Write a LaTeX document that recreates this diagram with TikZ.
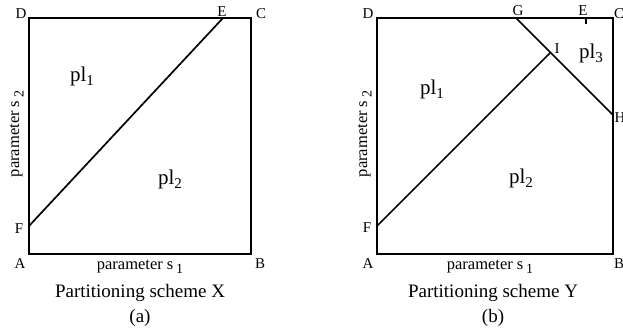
\documentclass[tikz,border=0pt]{standalone}
\usepackage{fontspec}
\setmainfont{Liberation Serif}

\tikzset{
  corner/.style={font=\fontsize{15}{15}\selectfont,inner sep=0pt,anchor=base},
  region/.style={font=\fontsize{21}{21}\selectfont,inner sep=0pt,anchor=base},
  axislabel/.style={font=\fontsize{16.5}{16.5}\selectfont,inner sep=0pt,anchor=base},
  caption/.style={font=\fontsize{19}{19}\selectfont,inner sep=0pt,anchor=base},
  border/.style={line width=2pt},
  cut/.style={line width=1.7pt}
}
\newcommand{\lowsub}[1]{\,\raisebox{-0.6ex}{\fontsize{14}{14}\selectfont #1}}
\newcommand{\plsub}[1]{pl\raisebox{-0.45ex}{\fontsize{15}{15}\selectfont #1}}

\begin{document}
\begin{tikzpicture}[x=1pt,y=-1pt]
  \useasboundingbox (0,0) rectangle (623,335);

  % scheme X
  \coordinate (xA) at (29,254);
  \coordinate (xB) at (251,254);
  \coordinate (xC) at (251,18);
  \coordinate (xD) at (29,18);
  \coordinate (xE) at (223,18);
  \coordinate (xF) at (29,226);
  \draw[border] (xA) -- (xB) -- (xC) -- (xD) -- cycle;
  \draw[cut] (xF) -- (xE);
  \node[corner] (lxD) at (21,18) {D};
  \node[corner] (lxE) at (222,16) {E};
  \node[corner] (lxC) at (261,18) {C};
  \node[corner] (lxA) at (20,268) {A};
  \node[corner] (lxB) at (260,268) {B};
  \node[corner] (lxF) at (19,233) {F};
  \node[region] (xpl1) at (82,81) {\plsub{1}};
  \node[region] (xpl2) at (170,184) {\plsub{2}};
  \node[axislabel] (xs1) at (140,269) {parameter s\lowsub{1}};
  \node[axislabel,rotate=90] (xs2) at (19,134) {parameter s\lowsub{2}};
  \node[caption] (xcap) at (140,297) {Partitioning scheme X};
  \node[caption] (xtag) at (140,322) {(a)};

  % scheme Y
  \coordinate (yA) at (377,254);
  \coordinate (yB) at (613,254);
  \coordinate (yC) at (613,18);
  \coordinate (yD) at (377,18);
  \coordinate (yG) at (516,18);
  \coordinate (yE) at (586,18);
  \coordinate (yI) at (550,53);
  \coordinate (yH) at (613,115);
  \coordinate (yF) at (377,226);
  \draw[border] (yA) -- (yB) -- (yC) -- (yD) -- cycle;
  \draw[cut] (yF) -- (yI);
  \draw[cut] (yG) -- (yH);
  \draw[line width=1.3pt] (yE) -- ++(0,6);
  \node[corner] (lyD) at (368,18) {D};
  \node[corner] (lyG) at (518,15) {G};
  \node[corner] (lyE) at (583,15) {E};
  \node[corner] (lyC) at (619,18) {C};
  \node[corner] (lyI) at (557,53) {I};
  \node[corner] (lyH) at (620,122) {H};
  \node[corner] (lyA) at (368,268) {A};
  \node[corner] (lyB) at (619,268) {B};
  \node[corner] (lyF) at (367,232) {F};
  \node[region] (ypl1) at (432,94) {\plsub{1}};
  \node[region] (ypl2) at (521,183) {\plsub{2}};
  \node[region] (ypl3) at (591,58) {\plsub{3}};
  \node[axislabel] (ys1) at (490,269) {parameter s\lowsub{1}};
  \node[axislabel,rotate=90] (ys2) at (367,134) {parameter s\lowsub{2}};
  \node[caption] (ycap) at (493,297) {Partitioning scheme Y};
  \node[caption] (ytag) at (493,322) {(b)};
\end{tikzpicture}
\end{document}
